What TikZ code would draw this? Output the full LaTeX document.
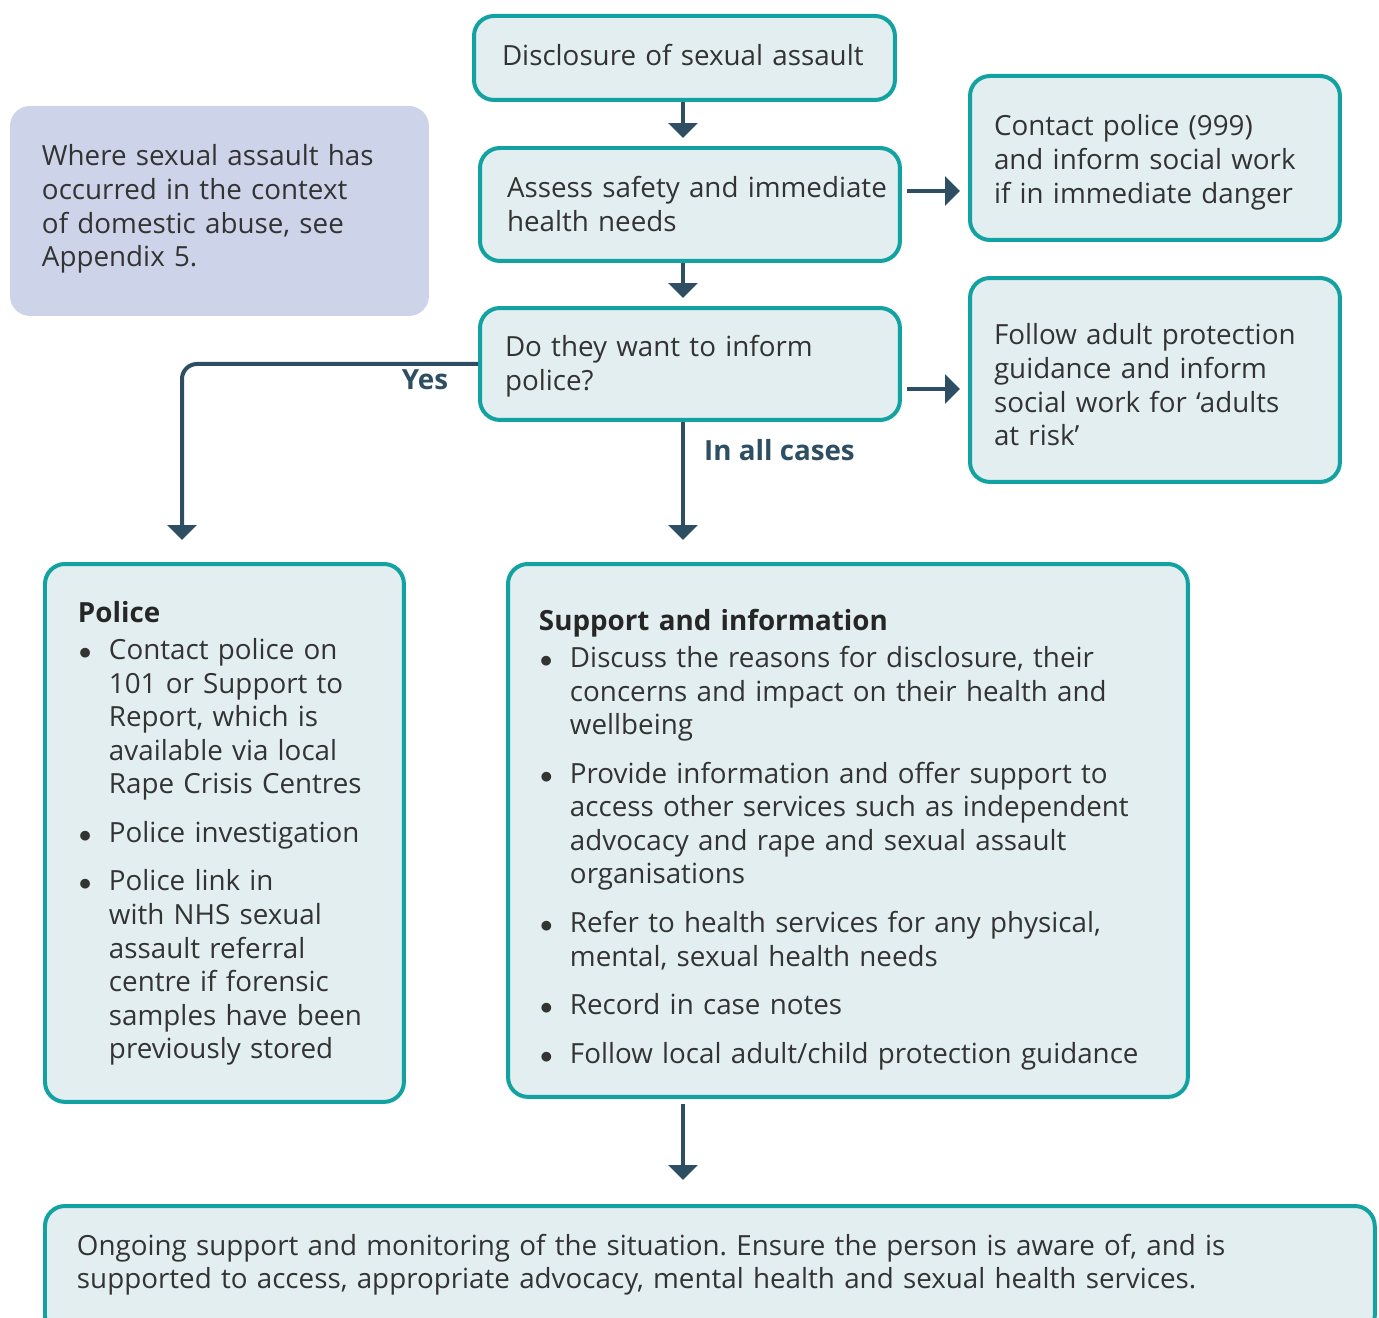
\documentclass[tikz,border=0pt]{standalone}
\usepackage{fontspec}
\setmainfont{Open Sans}
\usetikzlibrary{arrows.meta}
\frenchspacing

\definecolor{boxline}{HTML}{12A2A2}
\definecolor{boxfill}{HTML}{E3EEF0}
\definecolor{notefill}{HTML}{CDD4EA}
\definecolor{arrowc}{HTML}{2E4E63}
\definecolor{textc}{HTML}{333333}

\newcommand\padtext[2]{\hyphenpenalty=10000\leftskip=#1\relax #2\par}
\newcommand\boxtitle[1]{{\bfseries\color{black!85}#1}\par\vspace{-0.24cm}}
\newcommand\bpoint{\par\noindent\hangindent=0.62cm\hangafter=1\makebox[0.62cm][l]{\hspace{0.02cm}$\bullet$}}

\tikzset{
    tealbox/.style={draw=boxline, fill=boxfill, line width=0.08cm,
        rounded corners=0.4cm, align=left, anchor=north west,
        inner xsep=0.2cm, text height=0.44cm,
        text=textc, font=\fontsize{15.8}{19.1}\selectfont},
    notebox/.style={tealbox, draw=none, fill=notefill},
    dims/.style n args={3}{text width=#1, text depth=#2, inner ysep=#3},
    flow/.style={draw=arrowc, line width=0.08cm,
        -{Triangle[width=0.58cm,length=0.3cm]}},
    flowlabel/.style={text=arrowc, font=\fontsize{15.8}{18}\selectfont\bfseries}
}

\begin{document}
\begin{tikzpicture}[x=0.02cm, y=-0.02cm]
    \useasboundingbox (0, 0) rectangle (1379, 1318);

    \node[tealbox, dims={8.02cm}{0.12cm}{0.56cm}] (disc) at (472, 14)
        {\padtext{0.36cm}{Disclosure of sexual assault}};
    \node[tealbox, dims={8.00cm}{0.70cm}{0.56cm}] (assess) at (478, 146)
        {\padtext{0.34cm}{Assess safety and immediate\\health needs}};
    \node[tealbox, dims={7.00cm}{1.32cm}{0.76cm}] (contact) at (968, 74)
        {\padtext{0.28cm}{Contact police (999)\\and inform social work\\if in immediate danger}};
    \node[notebox, dims={7.98cm}{2.24cm}{0.76cm}] (note) at (8, 104)
        {\padtext{0.44cm}{Where sexual assault has\\occurred in the context\\of domestic abuse, see\\Appendix 5.}};
    \node[tealbox, dims={8.00cm}{0.72cm}{0.54cm}] (ask) at (478, 306)
        {\padtext{0.30cm}{Do they want to inform\\police?}};
    \node[tealbox, dims={7.00cm}{1.84cm}{0.90cm}] (follow) at (968, 276)
        {\padtext{0.28cm}{Follow adult protection\\guidance and inform\\social work for `adults\\at risk'}};

    \node[tealbox, dims={6.78cm}{8.84cm}{0.74cm}] (police) at (43, 562)
        {\padtext{0.46cm}{\setlength\parskip{0.3cm}%
        \boxtitle{Police}
        \bpoint Contact police on\newline 101 or Support to\newline Report, which is\newline available via local\newline Rape Crisis Centres
        \bpoint Police investigation
        \bpoint Police link in\newline with NHS sexual\newline assault referral\newline centre if forensic\newline samples have been\newline previously stored}};
    \node[tealbox, dims={13.20cm}{8.42cm}{0.90cm}] (support) at (506, 562)
        {\padtext{0.42cm}{\setlength\parskip{0.3cm}%
        \boxtitle{Support and information}
        \bpoint Discuss the reasons for disclosure, their\newline concerns and impact on their health and\newline wellbeing
        \bpoint Provide information and offer support to\newline access other services such as independent\newline advocacy and rape and sexual assault\newline organisations
        \bpoint Refer to health services for any physical,\newline mental, sexual health needs
        \bpoint Record in case notes
        \bpoint Follow local adult/child protection guidance}};
    \node[tealbox, dims={26.20cm}{1.08cm}{0.54cm}] (ongoing) at (43, 1204)
        {\padtext{0.44cm}{Ongoing support and monitoring of the situation. Ensure the person is aware of, and is\\supported to access, appropriate advocacy, mental health and sexual health services.}};

    \coordinate (yesend) at (182, 540);
    \coordinate (allend) at (683, 540);

    \draw[flow, shorten >=0.16cm] (disc.south -| allend) -- (assess.north -| allend);
    \draw[flow, shorten >=0.16cm] (assess.south -| allend) -- (ask.north -| allend);
    \draw[flow, shorten <=0.1cm, shorten >=0.16cm]
        ([yshift=0.27cm]assess.east) -- ([yshift=0.27cm]assess.east -| contact.west);
    \draw[flow, shorten <=0.1cm, shorten >=0.16cm]
        ([yshift=-0.5cm]ask.east) -- ([yshift=-0.5cm]ask.east -| follow.west);
    \draw[flow, rounded corners=0.3cm] (ask.west) -| (yesend);
    \draw[flow] (ask.south -| allend) -- (allend);
    \draw[flow, shorten <=0.1cm, shorten >=0.48cm] (support.south -| allend) -- (ongoing.north -| allend);

    \node[flowlabel] (yes) at (425, 380) {Yes};
    \node[flowlabel, anchor=west] (allcases) at (698, 450) {In all cases};
\end{tikzpicture}
\end{document}
